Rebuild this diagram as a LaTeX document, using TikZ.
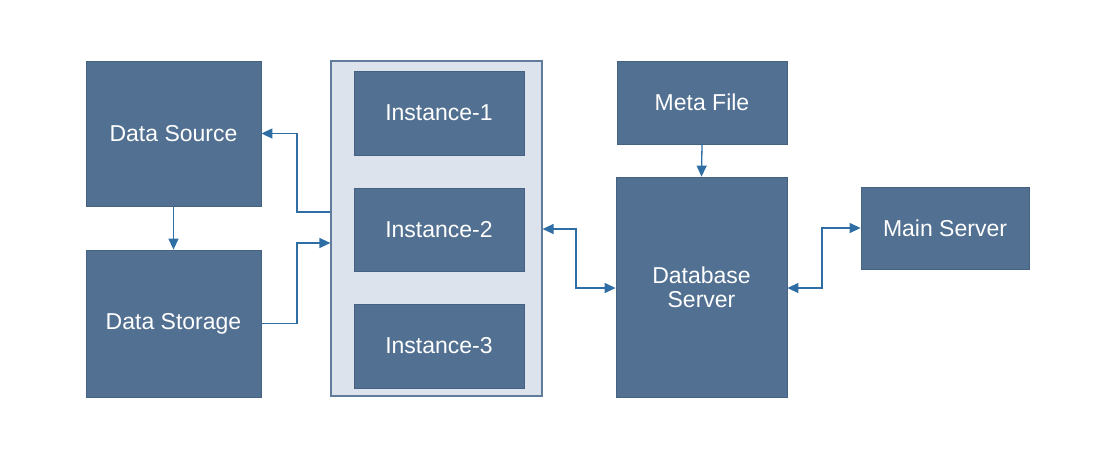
\documentclass[tikz,border=0pt]{standalone}
\usepackage{fontspec}
\setmainfont{Liberation Sans}
\usetikzlibrary{arrows.meta}
\definecolor{boxblue}{RGB}{82,112,145}
\definecolor{boxedge}{RGB}{70,98,130}
\definecolor{linkblue}{RGB}{46,110,165}
\definecolor{panel}{RGB}{221,227,236}
\definecolor{paneledge}{RGB}{96,124,156}
\tikzset{
  box/.style={rectangle,draw=boxedge,fill=boxblue,line width=0.4pt,inner sep=0pt,
    text=white,align=center,font=\fontsize{11.5}{12}\selectfont},
  link/.style={draw=linkblue,line width=0.65pt,-{Triangle[length=5.5pt,width=5pt]}},
  duplex/.style={link,{Triangle[length=5.5pt,width=5pt]}-{Triangle[length=5.5pt,width=5pt]}}
}
\begin{document}
\begin{tikzpicture}[x=0.5pt,y=-0.5pt]
    \useasboundingbox (0,0) rectangle (1104,457);
    %instances
    \node[rectangle,draw=paneledge,fill=panel,line width=0.6pt,minimum width=105.5pt,minimum height=167.5pt] (cluster) at (436.5,228.5) {};
    \node[box,minimum width=85pt,minimum height=42pt] (inst1) at (439,113) {Instance-1};
    \node[box,minimum width=85pt,minimum height=41.5pt] (inst2) at (439,229.5) {Instance-2};
    \node[box,minimum width=85pt,minimum height=42pt] (inst3) at (439,346) {Instance-3};
    %left side
    \node[box,minimum width=87.5pt,minimum height=72.5pt] (datasource) at (173.5,133.5) {Data Source};
    \node[box,minimum width=87.5pt,minimum height=73.5pt] (datastorage) at (173.5,323.5) {Data Storage};
    %right side
    \node[box,minimum width=85pt,minimum height=41.5pt] (metafile) at (702,102.5) {Meta File};
    \node[box,minimum width=85.5pt,minimum height=110pt] (dbserver) at (701.5,287) {Database\\Server};
    \node[box,minimum width=84pt,minimum height=41pt] (mainserver) at (945,228) {Main Server};

    \draw[link] (datasource.south) -- (datastorage.north);
    \draw[link] (cluster.west |- 0,212) -- (297,212) |- (datasource.east);
    \draw[link] (datastorage.east) -| (297,243) -- (cluster.west |- 0,243);
    \draw[duplex] (cluster.east |- 0,229) -| (576,288) -- (dbserver.west |- 0,288);
    \draw[link] (metafile.south) -- (dbserver.north);
    \draw[duplex] (dbserver.east |- 0,288) -| (822,228) -- (mainserver.west);
\end{tikzpicture}
\end{document}
